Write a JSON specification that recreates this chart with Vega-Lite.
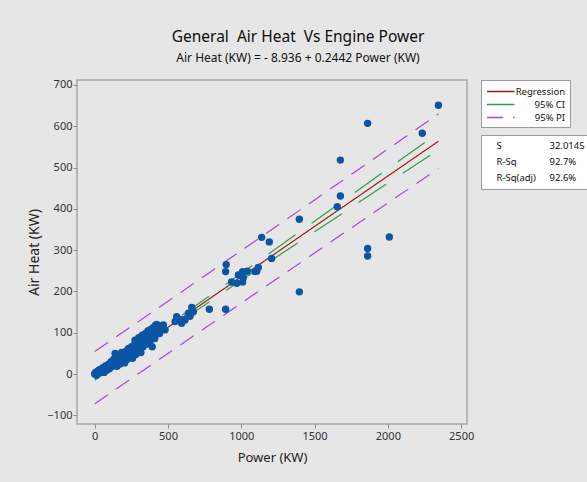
{
  "$schema": "https://vega.github.io/schema/vega-lite/v6.json",
  "width": 390,
  "height": 344,
  "autosize": {"type": "none"},
  "padding": {"left": 77, "top": 80, "right": 120, "bottom": 58},
  "background": "#e6e6e6",
  "title": {
    "text": "General\u00a0 Air Heat\u00a0 Vs Engine Power",
    "subtitle": "Air Heat (KW) = - 8.936 + 0.2442 Power (KW)",
    "anchor": "middle",
    "dx": 26,
    "offset": 15,
    "font": "Noto Sans",
    "fontSize": 15.5,
    "fontWeight": "normal",
    "color": "#0d0d0d",
    "subtitleFont": "Noto Sans",
    "subtitleFontSize": 12,
    "subtitleColor": "#111111",
    "subtitlePadding": 7
  },
  "config": {
    "font": "Noto Sans",
    "view": {"stroke": "#a6a6a6", "strokeWidth": 1.5, "fill": "white"},
    "axis": {
      "grid": false,
      "domain": false,
      "tickColor": "#8c8c8c",
      "tickSize": 4,
      "labelColor": "#333333",
      "labelFontSize": 11,
      "labelFont": "Noto Sans",
      "titleFont": "Noto Sans",
      "titleFontWeight": "normal",
      "titleColor": "#222222"
    }
  },
  "datasets": {
    "points": [
      {"power": 0, "heat": 0}, {"power": 6, "heat": 4}, {"power": 12, "heat": -3}, {"power": 18, "heat": 6},
      {"power": 25, "heat": 2}, {"power": 30, "heat": 10}, {"power": 38, "heat": 5}, {"power": 45, "heat": 12},
      {"power": 52, "heat": 8}, {"power": 58, "heat": 16}, {"power": 64, "heat": 4}, {"power": 70, "heat": 12},
      {"power": 76, "heat": 20}, {"power": 82, "heat": 9}, {"power": 88, "heat": 17}, {"power": 95, "heat": 24},
      {"power": 100, "heat": 13}, {"power": 106, "heat": 21}, {"power": 112, "heat": 30}, {"power": 118, "heat": 18},
      {"power": 124, "heat": 27}, {"power": 130, "heat": 36}, {"power": 136, "heat": 22}, {"power": 139, "heat": 50},
      {"power": 142, "heat": 31}, {"power": 148, "heat": 40}, {"power": 152, "heat": 19}, {"power": 158, "heat": 28},
      {"power": 163, "heat": 45}, {"power": 168, "heat": 34}, {"power": 172, "heat": 24}, {"power": 178, "heat": 41},
      {"power": 183, "heat": 52}, {"power": 188, "heat": 30}, {"power": 194, "heat": 38}, {"power": 199, "heat": 47},
      {"power": 204, "heat": 27}, {"power": 210, "heat": 42}, {"power": 215, "heat": 56}, {"power": 220, "heat": 35},
      {"power": 226, "heat": 48}, {"power": 231, "heat": 62}, {"power": 236, "heat": 40}, {"power": 242, "heat": 54},
      {"power": 247, "heat": 45}, {"power": 252, "heat": 66}, {"power": 258, "heat": 38}, {"power": 263, "heat": 58},
      {"power": 268, "heat": 50}, {"power": 273, "heat": 72}, {"power": 275, "heat": 82}, {"power": 280, "heat": 47},
      {"power": 285, "heat": 63}, {"power": 290, "heat": 55}, {"power": 296, "heat": 76}, {"power": 300, "heat": 88},
      {"power": 305, "heat": 60}, {"power": 310, "heat": 70}, {"power": 315, "heat": 52}, {"power": 320, "heat": 82},
      {"power": 325, "heat": 94}, {"power": 330, "heat": 66}, {"power": 336, "heat": 78}, {"power": 342, "heat": 88},
      {"power": 347, "heat": 98}, {"power": 352, "heat": 72}, {"power": 358, "heat": 84}, {"power": 364, "heat": 105},
      {"power": 370, "heat": 92}, {"power": 376, "heat": 78}, {"power": 382, "heat": 108}, {"power": 387, "heat": 96},
      {"power": 392, "heat": 66}, {"power": 398, "heat": 112}, {"power": 404, "heat": 100}, {"power": 410, "heat": 86},
      {"power": 415, "heat": 118}, {"power": 423, "heat": 120}, {"power": 428, "heat": 106}, {"power": 435, "heat": 113},
      {"power": 442, "heat": 98}, {"power": 450, "heat": 116}, {"power": 457, "heat": 111}, {"power": 468, "heat": 119},
      {"power": 480, "heat": 107}, {"power": 548, "heat": 127}, {"power": 559, "heat": 139}, {"power": 582, "heat": 132},
      {"power": 593, "heat": 123}, {"power": 616, "heat": 131}, {"power": 639, "heat": 147}, {"power": 650, "heat": 140},
      {"power": 662, "heat": 161}, {"power": 673, "heat": 151}, {"power": 782, "heat": 157}, {"power": 893, "heat": 157},
      {"power": 893, "heat": 248}, {"power": 897, "heat": 265}, {"power": 934, "heat": 223}, {"power": 969, "heat": 220},
      {"power": 980, "heat": 240}, {"power": 1009, "heat": 223}, {"power": 1009, "heat": 248}, {"power": 1014, "heat": 234},
      {"power": 1041, "heat": 249}, {"power": 1093, "heat": 248}, {"power": 1105, "heat": 249}, {"power": 1116, "heat": 258},
      {"power": 1139, "heat": 331}, {"power": 1191, "heat": 320}, {"power": 1207, "heat": 280}, {"power": 1396, "heat": 375},
      {"power": 1396, "heat": 199}, {"power": 1655, "heat": 405}, {"power": 1676, "heat": 431}, {"power": 1676, "heat": 518},
      {"power": 1862, "heat": 607}, {"power": 1862, "heat": 304}, {"power": 1862, "heat": 286}, {"power": 2010, "heat": 332},
      {"power": 2235, "heat": 583}, {"power": 2345, "heat": 651}
    ],
    "lines": [
      {"series": "Regression", "part": "fit", "power": 0, "heat": -8.9},
      {"series": "Regression", "part": "fit", "power": 2345, "heat": 563.7},
      {"series": "95% CI", "part": "ci_up", "power": 0, "heat": -3.0},
      {"series": "95% CI", "part": "ci_up", "power": 250, "heat": 57.3},
      {"series": "95% CI", "part": "ci_up", "power": 500, "heat": 118.7},
      {"series": "95% CI", "part": "ci_up", "power": 750, "heat": 181.0},
      {"series": "95% CI", "part": "ci_up", "power": 1000, "heat": 243.8},
      {"series": "95% CI", "part": "ci_up", "power": 1250, "heat": 306.9},
      {"series": "95% CI", "part": "ci_up", "power": 1500, "heat": 370.2},
      {"series": "95% CI", "part": "ci_up", "power": 1750, "heat": 433.4},
      {"series": "95% CI", "part": "ci_up", "power": 2000, "heat": 496.8},
      {"series": "95% CI", "part": "ci_up", "power": 2345, "heat": 584.3},
      {"series": "95% CI", "part": "ci_lo", "power": 0, "heat": -14.8},
      {"series": "95% CI", "part": "ci_lo", "power": 250, "heat": 46.9},
      {"series": "95% CI", "part": "ci_lo", "power": 500, "heat": 107.7},
      {"series": "95% CI", "part": "ci_lo", "power": 750, "heat": 167.4},
      {"series": "95% CI", "part": "ci_lo", "power": 1000, "heat": 226.8},
      {"series": "95% CI", "part": "ci_lo", "power": 1250, "heat": 285.7},
      {"series": "95% CI", "part": "ci_lo", "power": 1500, "heat": 344.6},
      {"series": "95% CI", "part": "ci_lo", "power": 1750, "heat": 403.4},
      {"series": "95% CI", "part": "ci_lo", "power": 2000, "heat": 462.2},
      {"series": "95% CI", "part": "ci_lo", "power": 2345, "heat": 543.1},
      {"series": "95% PI", "part": "pi_up", "power": 0, "heat": 54.4},
      {"series": "95% PI", "part": "pi_up", "power": 250, "heat": 115.3},
      {"series": "95% PI", "part": "pi_up", "power": 500, "heat": 176.4},
      {"series": "95% PI", "part": "pi_up", "power": 750, "heat": 237.6},
      {"series": "95% PI", "part": "pi_up", "power": 1000, "heat": 298.9},
      {"series": "95% PI", "part": "pi_up", "power": 1250, "heat": 360.2},
      {"series": "95% PI", "part": "pi_up", "power": 1500, "heat": 421.7},
      {"series": "95% PI", "part": "pi_up", "power": 1750, "heat": 483.2},
      {"series": "95% PI", "part": "pi_up", "power": 2000, "heat": 544.8},
      {"series": "95% PI", "part": "pi_up", "power": 2345, "heat": 630.0},
      {"series": "95% PI", "part": "pi_lo", "power": 0, "heat": -72.2},
      {"series": "95% PI", "part": "pi_lo", "power": 250, "heat": -11.1},
      {"series": "95% PI", "part": "pi_lo", "power": 500, "heat": 50.0},
      {"series": "95% PI", "part": "pi_lo", "power": 750, "heat": 110.8},
      {"series": "95% PI", "part": "pi_lo", "power": 1000, "heat": 171.7},
      {"series": "95% PI", "part": "pi_lo", "power": 1250, "heat": 232.4},
      {"series": "95% PI", "part": "pi_lo", "power": 1500, "heat": 293.1},
      {"series": "95% PI", "part": "pi_lo", "power": 1750, "heat": 353.6},
      {"series": "95% PI", "part": "pi_lo", "power": 2000, "heat": 414.2},
      {"series": "95% PI", "part": "pi_lo", "power": 2345, "heat": 497.4}
    ],
    "stats": [
      {"stat": "S"}, {"stat": "32.0145"},
      {"stat": "R-Sq"}, {"stat": "92.7%"},
      {"stat": "R-Sq(adj)"}, {"stat": "92.6%"}
    ]
  },
  "layer": [
    {
      "data": {"name": "lines"},
      "mark": {"type": "line", "strokeWidth": 1.2},
      "encoding": {
        "x": {
          "field": "power", "type": "quantitative",
          "scale": {"domain": [-121, 2540], "nice": false, "zero": false},
          "axis": {"values": [0, 500, 1000, 1500, 2000, 2500], "format": "d", "title": "Power (KW)", "titleFontSize": 13, "titlePadding": 10, "labelPadding": 2}
        },
        "y": {
          "field": "heat", "type": "quantitative",
          "scale": {"domain": [-121, 712], "nice": false, "zero": false},
          "axis": {"values": [-100, 0, 100, 200, 300, 400, 500, 600, 700], "format": "d", "title": "Air Heat (KW)", "titleFontSize": 14, "titlePadding": 5, "labelPadding": 1}
        },
        "color": {
          "field": "series", "type": "nominal",
          "scale": {"domain": ["Regression", "95% CI", "95% PI"], "range": ["#9e1b1b", "#2f9e44", "#a845e0"]},
          "legend": {
            "orient": "none", "legendX": 404, "legendY": 0,
            "title": null, "padding": 5,
            "strokeColor": "#9a9a9a", "fillColor": "white",
            "symbolType": "M-1,0H4", "symbolSize": 121, "symbolStrokeWidth": 1.5,
            "labelAlign": "right", "labelOffset": 66,
            "labelFontSize": 9.5, "labelColor": "#111111", "labelFont": "Noto Sans",
            "rowPadding": 2
          }
        },
        "strokeDash": {
          "field": "series", "type": "nominal",
          "scale": {"domain": ["Regression", "95% CI", "95% PI"], "range": [[1, 0], [33, 20], [16, 10]]},
          "legend": null
        },
        "detail": {"field": "part"}
      }
    },
    {
      "data": {"name": "points"},
      "mark": {"type": "circle", "size": 55, "color": "#0a56a5", "opacity": 1},
      "encoding": {
        "x": {"field": "power", "type": "quantitative", "scale": {"domain": [-121, 2540], "nice": false, "zero": false}},
        "y": {"field": "heat", "type": "quantitative", "scale": {"domain": [-121, 712], "nice": false, "zero": false}}
      }
    },
    {
      "data": {"name": "stats"},
      "mark": {"type": "point", "opacity": 0},
      "encoding": {
        "shape": {
          "field": "stat", "type": "nominal",
          "scale": {"domain": ["S", "R-Sq", "R-Sq(adj)", "32.0145", "92.7%", "92.6%"]},
          "legend": {
            "orient": "none", "legendX": 404, "legendY": 55,
            "title": null, "padding": 6, "columns": 2, "columnPadding": 4,
            "strokeColor": "#9a9a9a", "fillColor": "white",
            "symbolSize": 0, "symbolOpacity": 0, "labelOffset": 0,
            "labelFontSize": 9.5, "labelColor": "#111111", "labelFont": "Noto Sans",
            "rowPadding": 5
          }
        }
      }
    }
  ]
}
